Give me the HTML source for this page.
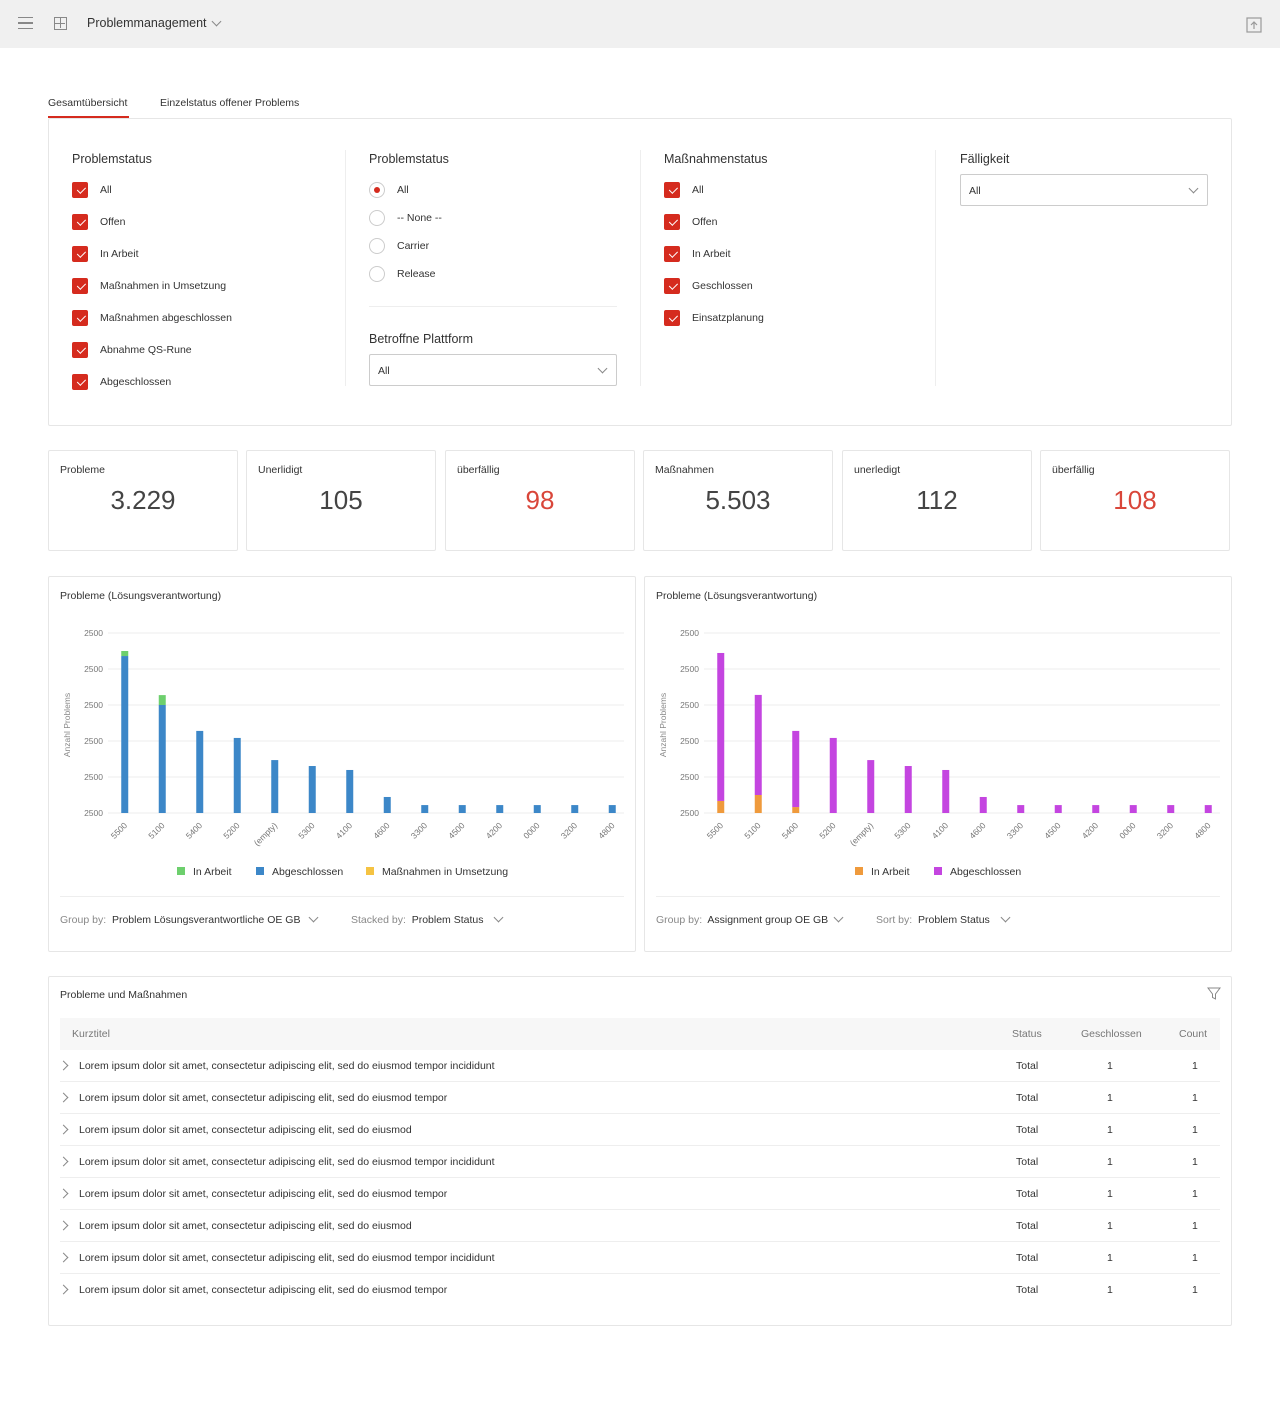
<!DOCTYPE html>
<html><head><meta charset="utf-8">
<style>
*{box-sizing:border-box;margin:0;padding:0}
body{width:1280px;height:1407px;background:#fff;font-family:"Liberation Sans",sans-serif;color:#333;position:relative;overflow:hidden}
.abs{position:absolute}
.panel{position:absolute;border:1px solid #e6e6e6;border-radius:2px;background:#fff}
.cb{position:absolute;width:16px;height:16px;background:#d52b1e;border-radius:2px}
.cb:after{content:"";position:absolute;left:4px;top:2px;width:7px;height:4px;border-left:1.5px solid #fff;border-bottom:1.5px solid #fff;transform:rotate(-45deg) translate(-1px,3px)}
.lbl{position:absolute;font-size:10.5px;color:#333;white-space:nowrap}
.h{position:absolute;font-size:12.5px;color:#333}
.rad{position:absolute;width:16px;height:16px;border:1px solid #ccc;border-radius:50%;background:#fff}
.rad.on:after{content:"";position:absolute;left:4px;top:4px;width:6px;height:6px;border-radius:50%;background:#d52b1e}
.sel{position:absolute;height:32px;border:1px solid #ccc;border-radius:2px;font-size:10.5px;padding:10px 8px}
.chev{position:absolute;width:7px;height:7px;border-right:1px solid #888;border-bottom:1px solid #888;transform:rotate(45deg)}
.vline{position:absolute;width:1px;background:#eee}
.kpi .k{position:absolute;left:11px;top:13px;font-size:10.5px}
.kpi .v{position:absolute;left:0;right:0;top:34px;text-align:center;font-size:26px;color:#444}
.row{position:absolute;left:60px;width:1160px;height:32px;border-bottom:1px solid #eee;font-size:10.5px}
</style></head><body>
<div class="abs" style="left:0;top:0;width:1280px;height:48px;background:#f0f0f0">
 <div class="abs" style="left:18px;top:17px;width:15px;height:12px;border-top:1.5px solid #888;border-bottom:1.5px solid #888"><div style="margin-top:4px;height:1.5px;background:#888"></div></div>
 <div class="abs" style="left:54px;top:17px;width:13px;height:13px;border:1.5px solid #888"><div style="position:absolute;left:4.5px;top:0;width:1.5px;height:10px;background:#888"></div><div style="position:absolute;top:4.5px;left:0;height:1.5px;width:10px;background:#888"></div></div>
 <div class="abs" style="left:87px;top:16px;font-size:12.5px;color:#333">Problemmanagement</div>
 <div class="chev" style="left:213px;top:18px"></div>
 <svg class="abs" style="left:1246px;top:17px" width="16" height="16"><rect x="1" y="1" width="14" height="14" fill="none" stroke="#999" stroke-width="1.2"/><path d="M8 12V5M5 8l3-3 3 3" fill="none" stroke="#999" stroke-width="1.2"/></svg>
</div>
<div class="abs" style="left:48px;top:97px;font-size:10.5px">Gesamtübersicht</div>
<div class="abs" style="left:48px;top:116px;width:81px;height:2px;background:#d52b1e"></div>
<div class="abs" style="left:160px;top:97px;font-size:10.5px">Einzelstatus offener Problems</div>

<div class="panel" style="left:48px;top:118px;width:1184px;height:308px"></div>
<div class="vline" style="left:345px;top:150px;height:236px"></div>
<div class="vline" style="left:640px;top:150px;height:236px"></div>
<div class="vline" style="left:935px;top:150px;height:236px"></div>
<div class="h" style="left:72px;top:152px">Problemstatus</div>
<div id="c1"></div>
<div class="h" style="left:369px;top:152px">Problemstatus</div>
<div class="rad on" style="left:369px;top:182px"></div><div class="lbl" style="left:397px;top:184px">All</div>
<div class="rad" style="left:369px;top:210px"></div><div class="lbl" style="left:397px;top:212px">-- None --</div>
<div class="rad" style="left:369px;top:238px"></div><div class="lbl" style="left:397px;top:240px">Carrier</div>
<div class="rad" style="left:369px;top:266px"></div><div class="lbl" style="left:397px;top:268px">Release</div>
<div class="abs" style="left:369px;top:306px;width:248px;height:1px;background:#eee"></div>
<div class="h" style="left:369px;top:332px">Betroffne Plattform</div>
<div class="sel" style="left:369px;top:354px;width:248px">All<div class="chev" style="right:10px;top:10px"></div></div>
<div class="h" style="left:664px;top:152px">Maßnahmenstatus</div>
<div id="c2"></div>
<div class="h" style="left:960px;top:152px">Fälligkeit</div>
<div class="sel" style="left:960px;top:174px;width:248px">All<div class="chev" style="right:10px;top:10px"></div></div>

<div class="panel kpi" style="left:48px;top:450px;width:190px;height:101px"><div class="k">Probleme</div><div class="v">3.229</div></div>
<div class="panel kpi" style="left:246px;top:450px;width:190px;height:101px"><div class="k">Unerlidigt</div><div class="v">105</div></div>
<div class="panel kpi" style="left:445px;top:450px;width:190px;height:101px"><div class="k">überfällig</div><div class="v" style="color:#d9463a">98</div></div>
<div class="panel kpi" style="left:643px;top:450px;width:190px;height:101px"><div class="k">Maßnahmen</div><div class="v">5.503</div></div>
<div class="panel kpi" style="left:842px;top:450px;width:190px;height:101px"><div class="k">unerledigt</div><div class="v">112</div></div>
<div class="panel kpi" style="left:1040px;top:450px;width:190px;height:101px"><div class="k">überfällig</div><div class="v" style="color:#d9463a">108</div></div>

<div class="panel" style="left:48px;top:576px;width:588px;height:376px"></div>
<div class="panel" style="left:644px;top:576px;width:588px;height:376px"></div>
<svg id="charts" class="abs" style="left:0;top:0" width="1280" height="960"></svg>
<div class="abs" style="left:60px;top:896px;width:564px;height:1px;background:#eee"></div>
<div class="abs" style="left:656px;top:896px;width:564px;height:1px;background:#eee"></div>
<div class="lbl" style="left:60px;top:914px"><span style="color:#888">Group by:</span>&nbsp; Problem Lösungsverantwortliche OE GB</div>
<div class="chev" style="left:310px;top:914px"></div>
<div class="lbl" style="left:351px;top:914px"><span style="color:#888">Stacked by:</span>&nbsp; Problem Status</div>
<div class="chev" style="left:495px;top:914px"></div>
<div class="lbl" style="left:656px;top:914px"><span style="color:#888">Group by:</span>&nbsp; Assignment group OE GB</div>
<div class="chev" style="left:835px;top:914px"></div>
<div class="lbl" style="left:876px;top:914px"><span style="color:#888">Sort by:</span>&nbsp; Problem Status</div>
<div class="chev" style="left:1002px;top:914px"></div>

<div class="panel" style="left:48px;top:976px;width:1184px;height:350px"></div>
<div class="lbl" style="left:60px;top:989px">Probleme und Maßnahmen</div>
<svg class="abs" style="left:1207px;top:987px" width="14" height="14"><path d="M1 1h12L8.5 7v5l-3-1.5V7z" fill="none" stroke="#888"/></svg>
<div class="abs" style="left:60px;top:1018px;width:1160px;height:32px;background:#f7f7f7;font-size:10.5px;color:#777">
 <span class="abs" style="left:12px;top:10px">Kurztitel</span>
 <span class="abs" style="left:952px;top:10px">Status</span>
 <span class="abs" style="left:1021px;top:10px">Geschlossen</span>
 <span class="abs" style="left:1119px;top:10px">Count</span>
</div>
<div id="rows"></div>

<script>
const c1Labels=["All","Offen","In Arbeit","Maßnahmen in Umsetzung","Maßnahmen abgeschlossen","Abnahme QS-Rune","Abgeschlossen"];
const c2Labels=["All","Offen","In Arbeit","Geschlossen","Einsatzplanung"];
function checks(id,x,labels){
 const host=document.getElementById(id);
 labels.forEach((t,i)=>{
  const b=document.createElement('div');b.className='cb';b.style.left=x+'px';b.style.top=(182+i*32)+'px';
  
  
  const l=document.createElement('div');l.className='lbl';l.style.left=(x+28)+'px';l.style.top=(184+i*32)+'px';l.textContent=t;
  
  
  host.appendChild(b);host.appendChild(l);
 });
}
checks('c1',72,c1Labels);checks('c2',664,c2Labels);

const rowTitles=["Lorem ipsum dolor sit amet, consectetur adipiscing elit, sed do eiusmod tempor incididunt","Lorem ipsum dolor sit amet, consectetur adipiscing elit, sed do eiusmod tempor","Lorem ipsum dolor sit amet, consectetur adipiscing elit, sed do eiusmod"];
const rh=document.getElementById('rows');
for(let i=0;i<8;i++){
 const r=document.createElement('div');r.className='row';r.style.top=(1050+i*32)+'px';
 if(i==7)r.style.borderBottom='none';
 
 
 r.innerHTML='<div class="chev" style="left:0;top:12px;transform:rotate(-45deg)"></div><span class="abs" style="left:19px;top:10px">'+rowTitles[i%3]+'</span><span class="abs" style="left:956px;top:10px">Total</span><span class="abs" style="left:1047px;top:10px">1</span><span class="abs" style="left:1132px;top:10px">1</span>';
 rh.appendChild(r);
}

// chart data
const categories=["5500","5100","5400","5200","(empty)","5300","4100","4600","3300","4500","4200","0000","3200","4800"];
const tickLabels=["2500","2500","2500","2500","2500","2500"];
const tickValues=[0,200,400,600,800,1000];
const leftAbgeschlossen=[872,600,456,417,294,261,239,89,44,44,44,44,44,44];
const leftInArbeit=[28,55,0,0,0,0,0,0,0,0,0,0,0,0];
const leftUmsetzung=[0,0,0,0,0,0,0,0,0,0,0,0,0,0];
const rightInArbeit=[67,100,33,0,0,0,0,0,0,0,0,0,0,0];
const rightAbgeschlossen=[822,556,423,417,294,261,239,89,44,44,44,44,44,44];

const NS='http://www.w3.org/2000/svg';
const svg=document.getElementById('charts');
function el(tag,a,p){const e=document.createElementNS(NS,tag);for(const k in a)e.setAttribute(k,a[k]);(p||svg).appendChild(e);return e;}
function chart(ox,title,series,legend){
 const base=813,top=633,gx0=ox+60,gx1=ox+576,x0=ox+58,x1=ox+583;
 const y=v=>base-(v/1000)*(base-top);
 const step=(x1-x0)/categories.length;
 const xc=i=>x0+step*(i+0.5);
 const g=el('g',{});
 
 
 const t=el('text',{x:ox+12,y:599,'font-size':10.5,fill:'#333','font-family':'Liberation Sans'},g);t.textContent=title;
 
 
 tickValues.forEach((v,i)=>{
  el('line',{x1:gx0,x2:gx1,y1:y(v),y2:y(v),stroke:'#ececec'},g);
  const l=el('text',{x:ox+55,y:y(v)+3,'text-anchor':'end','font-size':8.5,fill:'#777','font-family':'Liberation Sans'},g);l.textContent=tickLabels[i];
  
  
 });
 const at=el('text',{transform:`translate(${ox+22},725) rotate(-90)`,'text-anchor':'middle','font-size':8.5,fill:'#888','font-family':'Liberation Sans'},g);at.textContent='Anzahl Problems';
 
 
 categories.forEach((c,i)=>{
  let acc=0;
  series.forEach(s=>{
   const v=s.data[i];if(!v)return;
   const r=el('rect',{x:xc(i)-3.5,y:y(acc+v),width:7,height:y(acc)-y(acc+v),fill:s.color},g);
   
   
   acc+=v;
  });
  const l=el('text',{transform:`translate(${xc(i)+3},${826}) rotate(-45)`,'text-anchor':'end','font-size':8.5,fill:'#777','font-family':'Liberation Sans'},g);l.textContent=c;
  
  
 });
 legend.forEach(L=>{
  el('rect',{x:L.x,y:867,width:8,height:8,fill:L.color},g);
  const lt=el('text',{x:L.x+16,y:875,'font-size':10.5,fill:'#333','font-family':'Liberation Sans'},g);lt.textContent=L.t;
  
  
 });
}
chart(48,'Probleme (Lösungsverantwortung)',
 [{data:leftAbgeschlossen,color:'#3c87c8'},{data:leftInArbeit,color:'#6dcf6d'},{data:leftUmsetzung,color:'#f5c342'}],
 [{x:177,color:'#6dcf6d',t:'In Arbeit'},{x:256,color:'#3c87c8',t:'Abgeschlossen'},{x:366,color:'#f5c342',t:'Maßnahmen in Umsetzung'}]);
chart(644,'Probleme (Lösungsverantwortung)',
 [{data:rightInArbeit,color:'#ef9a3c'},{data:rightAbgeschlossen,color:'#c445e0'}],
 [{x:855,color:'#ef9a3c',t:'In Arbeit'},{x:934,color:'#c445e0',t:'Abgeschlossen'}]);
</script>
</body></html>
